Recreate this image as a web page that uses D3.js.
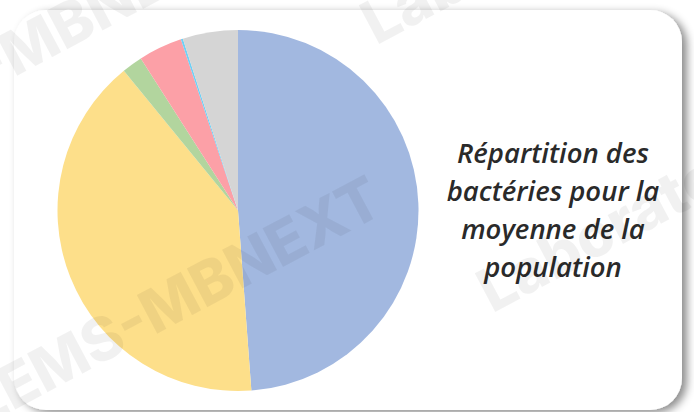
<!DOCTYPE html>
<html>
<head>
<meta charset="utf-8">
<script src="https://cdn.jsdelivr.net/npm/d3@7"></script>
<style>
  html, body { margin: 0; padding: 0; background: #ffffff; }
  svg { display: block; }
</style>
</head>
<body>
<div id="chart"></div>
<script>
// ---- Data ----
const categories = ["Catégorie 1", "Catégorie 2", "Catégorie 3", "Catégorie 4", "Catégorie 5", "Catégorie 6"];
const values = [48.82, 40.28, 1.85, 3.92, 0.19, 4.94];
const colors = ["#a2b8e0", "#fddf8a", "#b2d59e", "#fca0a7", "#6fd0f5", "#d5d5d5"];
const titleLines = ["Répartition des", "bactéries pour la", "moyenne de la", "population"];
const watermarks = ["LEMS-MBNEXT", "Laboratoire"];

const W = 694, H = 412;
const svg = d3.select("#chart").append("svg")
  .attr("width", W).attr("height", H)
  .attr("viewBox", `0 0 ${W} ${H}`);

// shadow filter for the card
const defs = svg.append("defs");
const f = defs.append("filter").attr("id", "shadow")
  .attr("x", "-10%").attr("y", "-10%").attr("width", "120%").attr("height", "120%");
f.append("feDropShadow").attr("dx", 5).attr("dy", 3).attr("stdDeviation", 4)
  .attr("flood-color", "#000").attr("flood-opacity", 0.45);

// card
svg.append("rect")
  .attr("x", 14).attr("y", 10).attr("width", 668).attr("height", 400)
  .attr("rx", 32).attr("ry", 32)
  .attr("fill", "#ffffff")
  .attr("filter", "url(#shadow)");

// pie
const cx = 238, cy = 210.5, r = 180.5;
const pie = d3.pie().sort(null).value(d => d.value).startAngle(0).endAngle(2 * Math.PI);
const arc = d3.arc().innerRadius(0).outerRadius(r);
const data = categories.map((c, i) => ({ name: c, value: values[i], color: colors[i] }));

svg.append("g").attr("transform", `translate(${cx},${cy})`)
  .selectAll("path").data(pie(data)).join("path")
  .attr("d", arc)
  .attr("fill", d => d.data.color);

// title
const title = svg.append("text")
  .attr("text-anchor", "middle")
  .attr("font-family", "'Open Sans', sans-serif")
  .attr("font-style", "italic")
  .attr("font-weight", 600)
  .attr("font-size", 27.5)
  .attr("fill", "#2a2a2a");
const baselines = [163, 201, 239, 277];
titleLines.forEach((t, i) => {
  title.append("tspan").attr("x", 553).attr("y", baselines[i]).text(t);
});

// watermark
const wm = svg.append("g").attr("pointer-events", "none");
const wmItems = [
  { text: watermarks[0], x: 174, y: 300, anchor: "middle" },
  { text: watermarks[0], x: 34, y: 42, anchor: "middle" },
  { text: watermarks[1], x: 482, y: 294, anchor: "start" },
  { text: watermarks[1], x: 366, y: 26, anchor: "start" }
];
wmItems.forEach(w => {
  wm.append("text")
    .attr("transform", `translate(${w.x},${w.y}) rotate(-28)`)
    .attr("text-anchor", w.anchor)
    .attr("dominant-baseline", "central")
    .attr("font-family", "Inter, 'DejaVu Sans', sans-serif")
    .attr("font-weight", 800)
    .attr("font-size", 60)
    .attr("fill", "#000")
    .attr("fill-opacity", 0.055)
    .text(w.text);
});
</script>
</body>
</html>
